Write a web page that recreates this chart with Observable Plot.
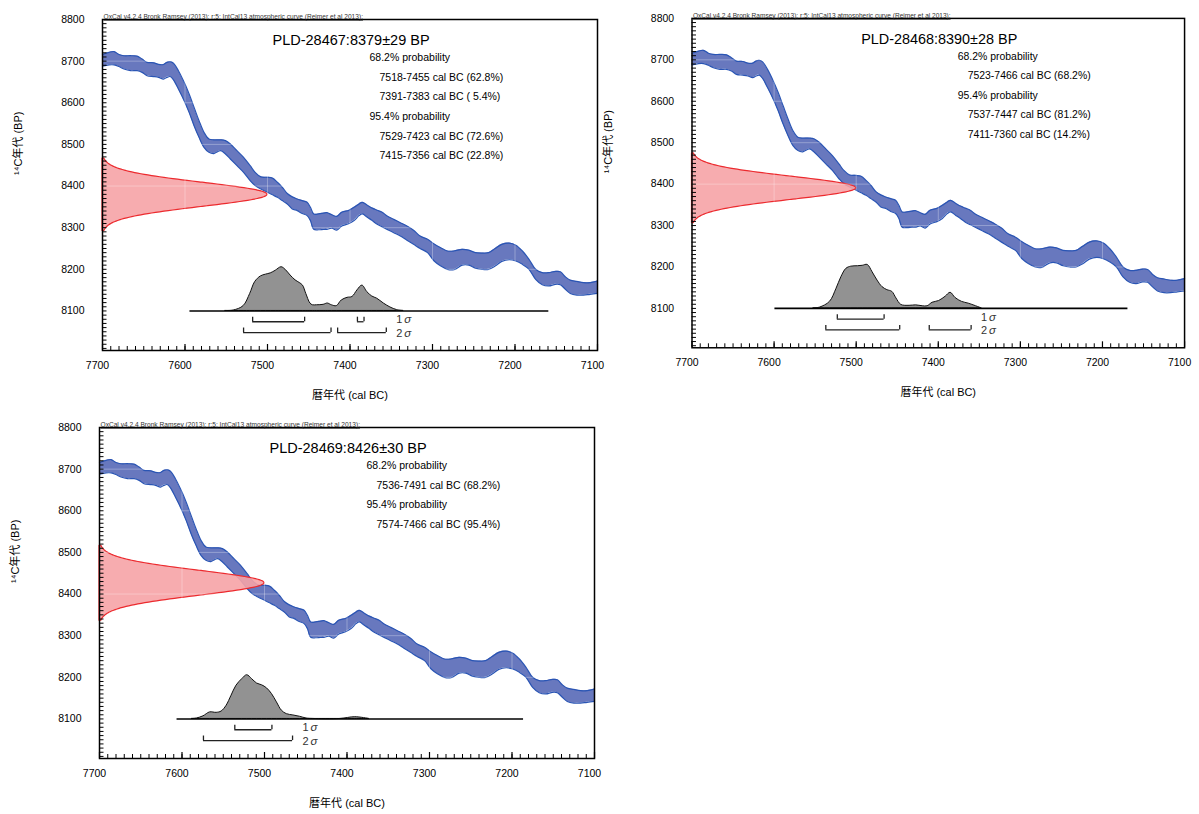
<!DOCTYPE html>
<html><head><meta charset="utf-8">
<script src="https://cdn.jsdelivr.net/npm/d3@7"></script>
<script src="https://cdn.jsdelivr.net/npm/@observablehq/plot@0.6"></script>
<style>
body{margin:0;background:#fff;width:1199px;height:814px;overflow:hidden;position:relative;}
.panel{position:absolute;}
</style></head><body>
<div id="p1" class="panel" style="left:0px;top:0px"></div>
<div id="p2" class="panel" style="left:590px;top:-1px"></div>
<div id="p3" class="panel" style="left:-3px;top:408px"></div>
<script>
// ---- IntCal13 calibration curve (upper / lower edge of the band, BP) ----
const calYears = [7700,7692,7686,7680,7674,7666,7658,7652,7646,7638,7632,7626,7622,7618,7614,7608,7601,7595,7589,7583,7577,7571,7565,7557,7551,7545,7537,7529,7521,7515,7508,7500,7494,7488,7482,7476,7470,7464,7458,7452,7448,7444,7438,7432,7428,7422,7416,7410,7401,7395,7389,7385,7379,7373,7367,7361,7355,7347,7339,7331,7323,7315,7306,7298,7290,7282,7274,7264,7256,7248,7240,7232,7224,7216,7207,7199,7191,7183,7175,7167,7159,7151,7145,7139,7133,7125,7117,7109,7100];
const calHi = [8716,8721,8723,8716,8713,8713,8712,8705,8697,8696,8692,8692,8697,8699,8695,8677,8649,8621,8589,8557,8529,8513,8511,8511,8509,8501,8485,8469,8449,8433,8422,8421,8419,8409,8397,8382,8374,8369,8365,8361,8349,8333,8333,8335,8336,8331,8327,8337,8342,8349,8357,8361,8354,8347,8342,8337,8328,8320,8312,8304,8294,8280,8272,8261,8252,8244,8244,8248,8246,8240,8239,8240,8250,8260,8263,8258,8244,8224,8200,8192,8192,8195,8194,8182,8174,8171,8168,8168,8172];
const calLo = [8688,8691,8691,8687,8681,8677,8677,8673,8665,8663,8661,8657,8661,8663,8655,8633,8605,8577,8545,8517,8493,8481,8478,8485,8477,8465,8449,8433,8413,8401,8393,8385,8379,8373,8365,8357,8345,8341,8334,8329,8317,8296,8295,8296,8296,8299,8294,8304,8310,8317,8329,8333,8325,8317,8308,8302,8296,8288,8280,8270,8260,8250,8240,8220,8208,8200,8199,8210,8210,8203,8200,8200,8208,8219,8223,8220,8212,8200,8176,8163,8160,8164,8163,8152,8142,8138,8138,8140,8142];

// ---- samples ----
const sampleIds = ["PLD-28467", "PLD-28468", "PLD-28469"];
const sampleBP = [8379, 8390, 8426];
const sampleErr = [29, 28, 30];

// calibrated ranges [from, to, percent]
const ranges68_1 = [[7518, 7455, "62.8"], [7391, 7383, " 5.4"]];
const ranges95_1 = [[7529, 7423, "72.6"], [7415, 7356, "22.8"]];
const ranges68_2 = [[7523, 7466, "68.2"]];
const ranges95_2 = [[7537, 7447, "81.2"], [7411, 7360, "14.2"]];
const ranges68_3 = [[7536, 7491, "68.2"]];
const ranges95_3 = [[7574, 7466, "95.4"]];

// calibrated probability distributions [year cal BC, relative height]
const dist1 = [[7551,0],[7541,0.01],[7529,0.11],[7521,0.39],[7515,0.66],[7508,0.79],[7502,0.83],[7496,0.86],[7490,0.92],[7483,1.0],[7478,0.94],[7472,0.81],[7466,0.70],[7461,0.64],[7457,0.58],[7453,0.39],[7448,0.17],[7445,0.13],[7440,0.13],[7432,0.14],[7427,0.17],[7422,0.13],[7416,0.11],[7410,0.24],[7403,0.30],[7397,0.32],[7391,0.47],[7385,0.58],[7379,0.43],[7373,0.33],[7367,0.28],[7359,0.17],[7351,0.08],[7343,0.02],[7335,0]];
const dist2 = [[7552,0],[7544,0.02],[7532,0.15],[7524,0.45],[7518,0.72],[7512,0.91],[7506,0.96],[7498,0.97],[7492,0.98],[7486,1.0],[7480,0.83],[7474,0.64],[7468,0.49],[7462,0.42],[7456,0.38],[7451,0.23],[7445,0.08],[7435,0.06],[7427,0.07],[7419,0.05],[7413,0.05],[7407,0.13],[7399,0.17],[7391,0.27],[7385,0.36],[7379,0.24],[7371,0.15],[7363,0.11],[7354,0.05],[7347,0]];
const dist3 = [[7588,0],[7582,0.01],[7574,0.06],[7566,0.15],[7558,0.14],[7552,0.17],[7546,0.30],[7540,0.53],[7534,0.76],[7527,0.91],[7521,1.0],[7515,0.91],[7509,0.81],[7503,0.77],[7497,0.70],[7491,0.57],[7485,0.38],[7479,0.19],[7473,0.11],[7465,0.08],[7457,0.05],[7449,0.01],[7441,0],[7408,0],[7390,0.04],[7373,0]];
const baseline1 = [7594, 7159];
const baseline2 = [7599, 7169];
const baseline3 = [7606, 7186];

// ---- axes ----
const xLabels = [7700, 7600, 7500, 7400, 7300, 7200, 7100];
const yLabels = [8100, 8200, 8300, 8400, 8500, 8600, 8700, 8800];
const xMinor = d3.range(7690, 7100, -10);
const yMinor = d3.range(8010, 8800, 10);
const xDomain = [7700, 7100];
const yDomain = [8005, 8800];
const distBase = 8100;

const headerText = "OxCal v4.2.4 Bronk Ramsey (2013); r:5; IntCal13 atmospheric curve (Reimer et al 2013);";
const FONT = '"Liberation Sans","Noto Sans CJK JP",Arial,sans-serif';

function makePanel(id, bp, err, r68, r95, distArr, baseline) {
  const W = 612, H = 410, mL = 102, mR = 15, mT = 19, mB = 60;
  const fw = W - mL - mR, fh = H - mT - mB;
  const curve = calYears.map((x, i) => ({x, hi: calHi[i], lo: calLo[i]}));
  const gauss = d3.range(-3, 3.0001, 0.05).map(z => ({y: bp + z * err, w: Math.exp(-0.5 * z * z)}));
  const dist = distArr.map(([x, p]) => ({x, p}));
  const br = [
    ...r68.map(r => ({a: r[0], b: r[1], y: distBase - 26, t: distBase - 15})),
    ...r95.map(r => ({a: r[0], b: r[1], y: distBase - 52, t: distBase - 41}))
  ];
  const brEnds = br.flatMap(d => [{x: d.a, y1: d.y, y2: d.t}, {x: d.b, y1: d.y, y2: d.t}]);
  const labelX = d3.min(br, d => d.b) - 12;
  const lines = [
    {s: "68.2% probability", h: true},
    ...r68.map(r => ({s: `${r[0]}-${r[1]} cal BC (${r[2]}%)`, h: false})),
    {s: "95.4% probability", h: true},
    ...r95.map(r => ({s: `${r[0]}-${r[1]} cal BC (${r[2]}%)`, h: false}))
  ].map((d, i) => ({...d, dy: 34 + i * 19.7}));

  const plot = Plot.plot({
    width: W, height: H, marginLeft: mL, marginRight: mR, marginTop: mT, marginBottom: mB,
    x: {domain: xDomain, label: null},
    y: {domain: yDomain, label: null},
    style: {fontFamily: FONT, fontSize: "10.5px", background: "transparent", color: "black", whiteSpace: "pre"},
    marks: [
      Plot.areaY(curve, {x: "x", y1: "lo", y2: "hi", fill: "#6878be", curve: "catmull-rom"}),
      Plot.lineY(curve, {x: "x", y: "hi", stroke: "#2a55b4", strokeWidth: 1.2, curve: "catmull-rom"}),
      Plot.lineY(curve, {x: "x", y: "lo", stroke: "#2a55b4", strokeWidth: 1.2, curve: "catmull-rom"}),
      Plot.areaX(gauss, {y: "y", x1: xDomain[0], x2: d => xDomain[0] - 200 * d.w, fill: "#f6a3a6", fillOpacity: 0.9, stroke: "#ec2a2e", strokeWidth: 1.2, curve: "catmull-rom"}),
      Plot.gridX(xLabels, {stroke: "white", strokeOpacity: 0.3}),
      Plot.gridY(yLabels, {stroke: "white", strokeOpacity: 0.3}),
      Plot.areaY(dist, {x: "x", y1: distBase, y2: d => distBase + 105 * d.p, fill: "#929292", stroke: "#111", strokeWidth: 1, curve: "catmull-rom"}),
      Plot.ruleY([distBase], {x1: baseline[0], x2: baseline[1], stroke: "black", strokeWidth: 1.6}),
      Plot.ruleY(br, {y: "y", x1: "a", x2: "b", stroke: "#222", strokeWidth: 1.3}),
      Plot.ruleX(brEnds, {x: "x", y1: "y1", y2: "y2", stroke: "#222", strokeWidth: 1.3}),
      Plot.text([{s: "1", y: distBase - 21}, {s: "2", y: distBase - 54}], {x: labelX, y: "y", text: "s", textAnchor: "start", fontSize: 11, fill: "#333"}),
      Plot.text([{s: "σ", y: distBase - 21}, {s: "σ", y: distBase - 54}], {x: labelX, y: "y", text: "s", textAnchor: "start", dx: 8, fontSize: 11.5, fontStyle: "italic", fill: "#333"}),
      Plot.tickY(yMinor, {y: d => d, insetRight: fw - 4.5, stroke: "black", strokeWidth: 1}),
      Plot.tickX(xMinor, {x: d => d, insetTop: fh - 4, stroke: "black", strokeWidth: 1}),
      Plot.tickX(xLabels, {x: d => d, insetTop: fh - 6, stroke: "black", strokeWidth: 1.2}),
      Plot.axisY(yLabels, {tickSize: 0, tickPadding: 18, tickFormat: d => String(d), fontSize: 10.5, label: null}),
      Plot.axisX(xLabels, {tickSize: 0, tickPadding: 11, dx: -5, tickFormat: d => String(d), fontSize: 10.5, label: null}),
      Plot.frame({stroke: "black", strokeWidth: 1.5}),
      Plot.text(["¹⁴C年代 (BP)"], {text: d => d, frameAnchor: "left", dx: -84, dy: -10, rotate: -90, fontSize: 11}),
      Plot.text(["暦年代 (cal BC)"], {text: d => d, frameAnchor: "bottom", dy: 48, fontSize: 11}),
      Plot.text([headerText], {text: d => d, frameAnchor: "top-left", textAnchor: "start", dx: 1, dy: -5, fontSize: 6.6, fill: "#333"}),
      Plot.text([`${id}:${bp}±${err} BP`], {text: d => d, frameAnchor: "top-left", textAnchor: "start", dx: 170, dy: 15, fontSize: 14.5}),
      Plot.text(lines, {text: "s", frameAnchor: "top-left", textAnchor: "start", fontSize: 10.5})
    ]
  });
  return {plot, lines};
}

function build(el, id, bp, err, r68, r95, dist, baseline) {
  const {plot, lines} = makePanel(id, bp, err, r68, r95, dist, baseline);
  // place probability lines (last text mark): per-line offsets within the frame
  const groups = plot.querySelectorAll('g[aria-label="text"]');
  const g = groups[groups.length - 1];
  g.querySelectorAll("text").forEach((t, i) => {
    const d = lines[i];
    const tr = t.getAttribute("transform") || "";
    t.setAttribute("transform", `translate(${(d.h ? 267 : 277)},${d.dy}) ` + tr);
  });
  plot.querySelectorAll("text").forEach(t => {
    if (t.textContent.startsWith("OxCal")) t.setAttribute("text-decoration", "underline");
  });
  document.getElementById(el).appendChild(plot);
}

build("p1", sampleIds[0], sampleBP[0], sampleErr[0], ranges68_1, ranges95_1, dist1, baseline1);
build("p2", sampleIds[1], sampleBP[1], sampleErr[1], ranges68_2, ranges95_2, dist2, baseline2);
build("p3", sampleIds[2], sampleBP[2], sampleErr[2], ranges68_3, ranges95_3, dist3, baseline3);
</script>
</body></html>
